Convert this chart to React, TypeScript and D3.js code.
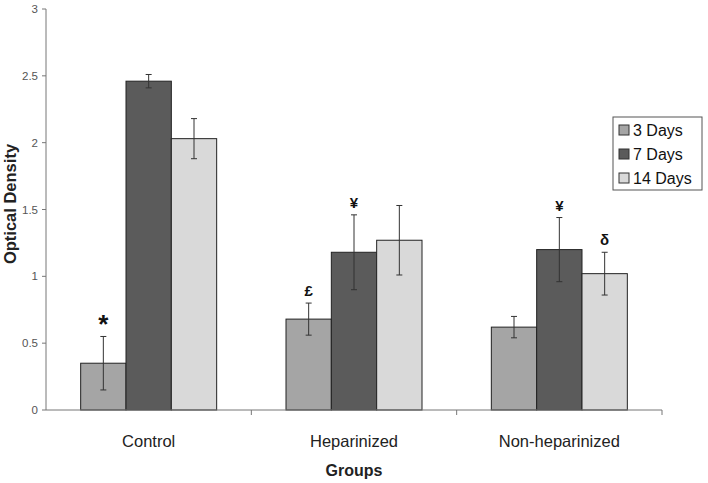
import React from "react";
import * as d3 from "d3";

const groups = ["Control", "Heparinized", "Non-heparinized"];
const series = ["3 Days", "7 Days", "14 Days"];
const values3 = [0.35, 0.68, 0.62];
const values7 = [2.46, 1.18, 1.2];
const values14 = [2.03, 1.27, 1.02];
const err3 = [0.2, 0.12, 0.08];
const err7 = [0.05, 0.28, 0.24];
const err14 = [0.15, 0.26, 0.16];
const yTicks = [0, 0.5, 1, 1.5, 2, 2.5, 3];
const annotations = [
  { group: "Control", series: "3 Days", label: "*" },
  { group: "Heparinized", series: "3 Days", label: "£" },
  { group: "Heparinized", series: "7 Days", label: "¥" },
  { group: "Non-heparinized", series: "7 Days", label: "¥" },
  { group: "Non-heparinized", series: "14 Days", label: "δ" },
];
const colors = ["#a5a5a5", "#5b5b5b", "#d9d9d9"];

export default function App() {
  const W = 708, H = 483;
  const x0 = 46, x1 = 662, yTop = 9, yBot = 410;
  const x = d3.scaleBand().domain(groups).range([x0, x1]).paddingInner(0).paddingOuter(0);
  const xs = d3.scaleBand().domain(series).range([0, 136]);
  const y = d3.scaleLinear().domain([0, 3]).range([yBot, yTop]);
  const vals = [values3, values7, values14];
  const errs = [err3, err7, err14];
  const font = "Liberation Sans, Arial, sans-serif";

  const bars: any[] = [];
  groups.forEach((g, gi) => {
    series.forEach((s, si) => {
      const v = vals[si][gi];
      const e = errs[si][gi];
      const bx = (x(g) as number) + (x.bandwidth() - 136) / 2 + (xs(s) as number);
      bars.push({ g, s, si, v, e, bx, bw: xs.bandwidth() });
    });
  });

  return (
    <svg width={W} height={H} style={{ position: "absolute", left: 0, top: 0, background: "#fff" }}>
      <rect x={0} y={0} width={W} height={H} fill="#fff" />
      {/* y axis */}
      <line x1={x0} x2={x0} y1={yTop} y2={yBot} stroke="#777" strokeWidth={1} />
      {yTicks.map((t) => (
        <g key={t}>
          <line x1={x0 - 4} x2={x0} y1={y(t)} y2={y(t)} stroke="#777" />
          <text x={x0 - 8} y={y(t)} dy="0.35em" textAnchor="end" fontSize={11.5} fill="#555" fontFamily={font}>
            {t}
          </text>
        </g>
      ))}
      {/* bars */}
      {bars.map((b, i) => (
        <rect key={i} x={b.bx} y={y(b.v)} width={b.bw} height={yBot - y(b.v)} fill={colors[b.si]} stroke="#222" strokeWidth={1} />
      ))}
      {/* error bars */}
      {bars.map((b, i) => {
        const cx = b.bx + b.bw / 2;
        return (
          <g key={"e" + i} stroke="#333" strokeWidth={1}>
            <line x1={cx} x2={cx} y1={y(b.v + b.e)} y2={y(b.v - b.e)} />
            <line x1={cx - 3} x2={cx + 3} y1={y(b.v + b.e)} y2={y(b.v + b.e)} />
            <line x1={cx - 3} x2={cx + 3} y1={y(b.v - b.e)} y2={y(b.v - b.e)} />
          </g>
        );
      })}
      {/* annotations */}
      {annotations.map((a, i) => {
        const b = bars.find((bb) => bb.g === a.group && bb.s === a.series);
        const cx = b.bx + b.bw / 2;
        const top = y(b.v + b.e);
        const isStar = a.label === "*";
        return (
          <text key={"a" + i} x={cx} y={top - (isStar ? 3 : 7)} textAnchor="middle" fontSize={isStar ? 26 : 15} fontWeight="bold" fill="#111" fontFamily={font}>
            {a.label}
          </text>
        );
      })}
      {/* x axis */}
      <line x1={x0} x2={x1} y1={yBot} y2={yBot} stroke="#777" />
      {groups.map((g, i) => (
        <line key={"t" + i} x1={(x(g) as number) + x.bandwidth()} x2={(x(g) as number) + x.bandwidth()} y1={yBot} y2={yBot + 5} stroke="#777" />
      ))}
      {groups.map((g) => (
        <text key={"l" + g} x={(x(g) as number) + x.bandwidth() / 2} y={447} textAnchor="middle" fontSize={16.5} fill="#222" fontFamily={font}>
          {g}
        </text>
      ))}
      <text x={(x0 + x1) / 2} y={476} textAnchor="middle" fontSize={16} fontWeight="bold" fill="#222" fontFamily={font}>
        Groups
      </text>
      <text transform={`translate(16, 204) rotate(-90)`} textAnchor="middle" fontSize={16.5} fontWeight="bold" fill="#222" fontFamily={font}>
        Optical Density
      </text>
      {/* legend */}
      <rect x={613} y={117} width={89} height={73} fill="#fff" stroke="#555" />
      {series.map((s, i) => (
        <g key={"lg" + s}>
          <rect x={619} y={125 + i * 24} width={10} height={10} fill={colors[i]} stroke="#333" />
          <text x={633} y={130 + i * 24} dy="0.35em" fontSize={16} fill="#111" fontFamily={font}>
            {s}
          </text>
        </g>
      ))}
    </svg>
  );
}
